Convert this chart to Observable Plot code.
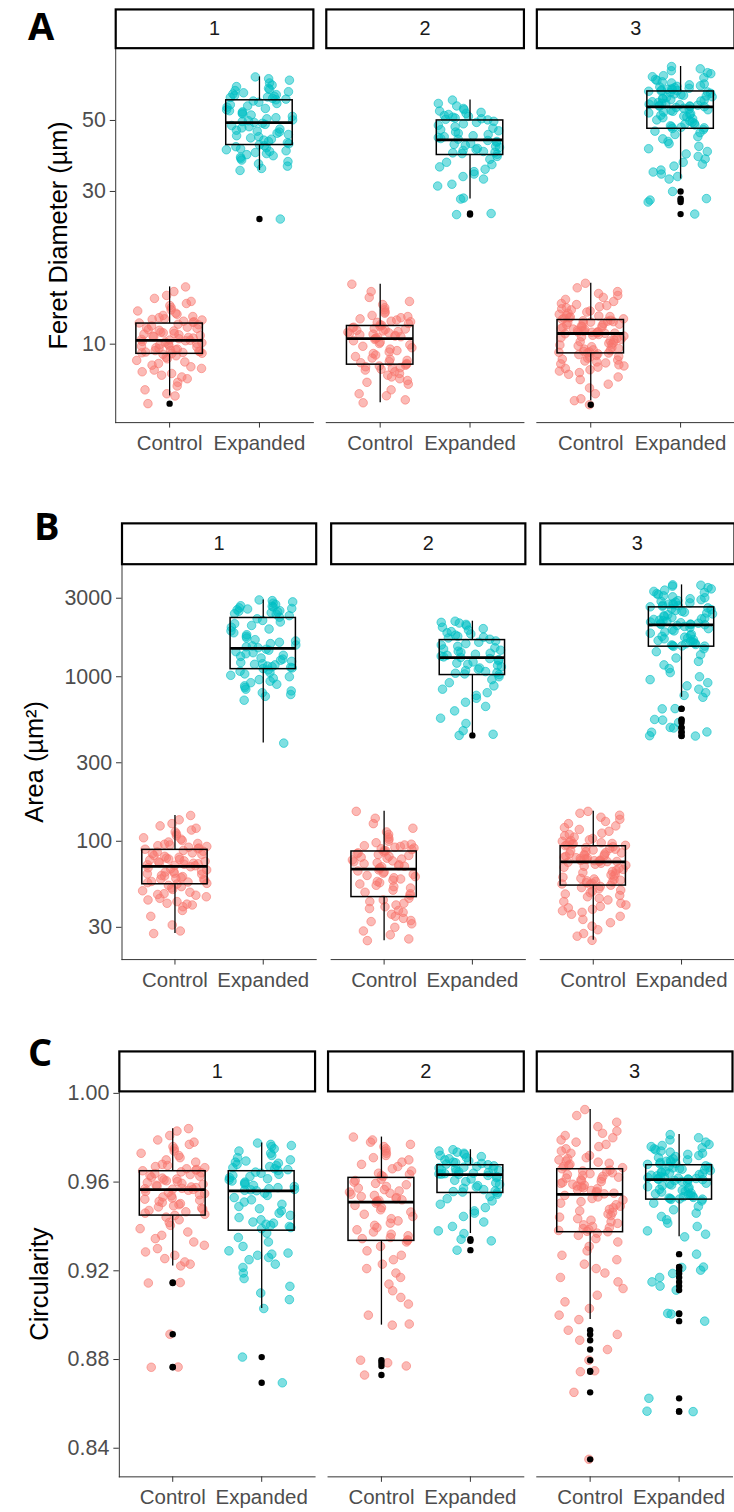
<!DOCTYPE html>
<html>
<head>
<meta charset="utf-8">
<script src="https://cdn.jsdelivr.net/npm/d3@7"></script>
<script src="https://cdn.jsdelivr.net/npm/@observablehq/plot@0.6"></script>
<style>
html, body { margin: 0; padding: 0; background: #fff; width: 734px; height: 1512px; overflow: hidden; }
#wrap { position: relative; width: 734px; height: 1512px; overflow: hidden; }
.panel { position: absolute; left: 0; }
#letters { position: absolute; left: 0; top: 0; pointer-events: none; }
</style>
</head>
<body>
<div id="wrap">
  <div class="panel" id="pA" style="top:0px"></div>
  <div class="panel" id="pB" style="top:490px"></div>
  <div class="panel" id="pC" style="top:1000px"></div>
</div>
<script>
// ---------- categories ----------
const reps = [1, 2, 3];
const groups = ["Control", "Expanded"];
const panelLetters = ["A", "B", "C"];

// ---------- A: Feret diameter (µm) ----------
const feretTicks = [10, 30, 50];
const feretControl1 = [15.1,14.6,14.2,13.9,13.6,13.4,13.2,13.0,12.8,12.7,12.5,12.4,12.3,12.2,12.1,12.0,11.95,11.9,11.8,11.75,11.7,11.65,
  11.55,11.5,11.4,11.3,11.25,11.2,11.1,11.05,11.0,10.9,10.85,10.8,10.75,10.7,10.65,10.6,10.55,10.5,10.45,10.4,10.35,10.3,10.28,
  10.25,10.2,10.15,10.1,10.05,10.0,9.95,9.9,9.85,9.8,9.75,9.7,9.65,9.6,9.58,9.55,9.5,9.48,9.45,9.42,9.4,9.37,9.35,
  9.3,9.2,9.1,9.0,8.9,8.8,8.7,8.6,8.5,8.4,8.3,8.2,8.1,8.0,7.9,7.8,7.6,7.4,7.2,7.0,6.89,6.52];
const feretExpanded1 = [68.4,67.5,66.8,65.5,64.5,63.8,63,62.5,62,61.5,61,60.5,60.2,59.8,59.5,59.2,59,58.6,58.3,58,
  57.5,57,56.5,56,55.5,55,54.5,54,53.6,53.2,52.8,52.4,52,51.5,51,50.6,50.2,49.9,49.6,49.3,
  49,48.6,48.2,47.8,47.4,47,46.6,46.3,46,45.6,45.2,44.8,44.5,44.1,43.7,43.4,43,42.6,42.3,42,
  41.7,41.4,41.1,40.8,40.5,40.2,40,39.7,39.4,39.1,38.8,38.4,38,37.6,37.2,36.6,36,35.4,34.9,24.6];
const feretControl2 = [15.4,14.6,14.0,13.6,13.3,13.0,12.8,12.6,12.5,12.3,12.2,12.1,12.0,11.9,11.8,11.75,11.7,11.6,11.5,11.45,
  11.38,11.3,11.25,11.2,11.15,11.1,11.05,11.0,10.95,10.9,10.85,10.8,10.75,10.7,10.65,10.6,10.55,10.5,10.45,10.42,
  10.35,10.25,10.15,10.05,9.95,9.85,9.75,9.65,9.55,9.45,9.35,9.25,9.15,9.05,8.98,8.9,8.82,8.75,8.7,8.65,
  8.6,8.55,8.5,8.45,8.4,8.35,8.3,8.2,8.1,8.0,7.9,7.8,7.7,7.6,7.5,7.2,7.0,6.9,6.7,6.56];
const feretExpanded2 = [57.9,56.5,55.5,54.5,54,53.5,53,52.6,52.2,51.8,51.5,51.2,50.9,50.6,50.4,50.2,
  49.7,49.3,48.8,48.3,47.8,47.3,46.8,46.4,46,45.6,45.2,44.8,44.5,44.2,43.9,43.7,
  43.3,43,42.7,42.4,42.1,41.8,41.5,41.2,40.9,40.6,40.3,40,39.8,39.6,39.4,39.2,
  38.6,37.8,37,36.4,35.8,35.2,34.6,34,33.4,32.8,31.6,31.2,28.6,28.4,25.6,25.4];
const feretControl3 = [15.5,15.0,14.6,14.4,14.2,14.0,13.8,13.6,13.4,13.3,13.2,13.1,13.0,12.9,12.8,12.7,12.6,12.5,12.4,12.3,12.25,12.2,12.15,12.1,12.05,12.0,11.95,
  11.88,11.84,11.8,11.76,11.72,11.68,11.64,11.6,11.55,11.5,11.45,11.4,11.35,11.3,11.25,11.2,11.15,11.1,11.06,11.02,10.98,10.95,10.92,10.9,10.87,10.85,10.83,10.81,
  10.78,10.72,10.66,10.6,10.54,10.48,10.42,10.36,10.3,10.24,10.18,10.12,10.06,10.0,9.94,9.88,9.82,9.76,9.7,9.65,9.6,9.55,9.5,9.46,9.43,9.4,9.38,
  9.33,9.28,9.22,9.16,9.1,9.04,8.98,8.92,8.86,8.8,8.74,8.68,8.62,8.55,8.48,8.4,8.32,8.24,8.15,8.05,7.9,7.75,7.5,7.3,7.0,6.75,6.66,6.47];
const feretExpanded3 = [73.7,72.5,71.5,70.5,70,69,68.5,68,67.2,66.6,66,65.5,65,64.6,64.2,63.9,63.6,63.3,63,62.8,62.6,62.4,62.2,62,61.8,61.7,
  61.4,61.1,60.8,60.5,60.2,59.9,59.6,59.3,59,58.7,58.4,58.1,57.8,57.5,57.2,56.9,56.6,56.4,56.2,56,55.8,55.6,55.5,55.4,55.3,55.2,
  54.9,54.6,54.3,54,53.7,53.4,53.1,52.8,52.5,52.2,51.9,51.6,51.3,51,50.6,50.2,49.8,49.4,49,48.7,48.4,48.1,47.8,47.6,47.4,47.2,
  46.8,46.3,45.8,45.2,44.5,43.8,43,42.3,41.5,40.8,40,39.3,38.6,37.9,37,36.5,36,35,34.5,34,33.4,32.8,30.0,28.5,28.2,27.8,25.5];
// boxplot summaries: [replicate, group, lower whisker, Q1, median, Q3, upper whisker]
const feretBoxes = [
  [1, "Control", 6.89, 9.33, 10.27, 11.6, 15.1],
  [1, "Expanded", 34.9, 41.9, 49.2, 57.8, 68.4],
  [2, "Control", 6.56, 8.63, 10.4, 11.4, 15.4],
  [2, "Expanded", 28.4, 39.0, 43.5, 50.0, 57.9],
  [3, "Control", 6.66, 9.36, 10.8, 11.9, 15.5],
  [3, "Expanded", 32.8, 47.1, 55.1, 61.6, 73.7]
];

// ---------- B: Area (µm²) ----------
const areaTicks = [30, 100, 300, 1000, 3000];
const areaControl1 = [143.5,135,128,124,120,117,114,111,108,105,103,101,99,97,96,95,94,93,92,91,90,89.5,
  88,87,86,85,84,83,82,81,80,79,78,77.5,77,76,75.5,75,74,73.5,73,72.5,72,71.5,71,
  70,69,68,67,66,65.5,65,64,63.5,63,62,61.5,61,60,59.5,59,58.5,58,57,56.5,56,55.5,55,
  54,53,52,51,50,49,48,47.5,47,46,45,44,43,42,41.5,41,40,38,35,31,28.5,27.5];
const areaExpanded1 = [2930,2900,2850,2800,2750,2700,2680,2650,2620,2600,2580,2550,2520,2500,2480,2450,2420,2400,2350,2300,
  2250,2200,2150,2100,2050,2000,1950,1900,1850,1800,1760,1720,1680,1650,1620,1590,1560,1540,1520,1500,
  1470,1450,1420,1400,1380,1350,1330,1300,1280,1260,1240,1220,1200,1190,1180,1160,1150,1140,1130,1120,
  1100,1080,1060,1040,1020,1000,980,960,940,920,900,880,860,840,820,800,780,760,720,395];
const areaControl2 = [152,138,128,120,114,110,106,103,100,98,96,95,94,93,92,91,90,89,88,87.5,
  86,85,84,83,82,81,80,79,78,77,76,75,74,73,72,71,70.5,70,69,68.5,
  67,66,65,64,63,62,61,60,59,58,57,56,55,54,53,52,50.5,49,48,47,
  45,44,43,42,41,40,39,38,37,36,35,34,33,32.5,31.5,30,28.5,27,25.5,24.9];
const areaExpanded2 = [2175,2140,2120,2080,2040,2000,1960,1920,1880,1850,1820,1790,1760,1740,1720,1690,
  1650,1620,1590,1560,1530,1500,1475,1450,1430,1410,1390,1370,1350,1335,1320,1310,
  1290,1270,1250,1230,1210,1190,1170,1150,1130,1110,1090,1075,1060,1050,1040,1030,
  1000,960,920,880,840,800,770,740,700,660,620,560,520,470,447,440];
const areaControl3 = [152,148,144,140,136,132,128,124,121,118,115,112,110,108,106,104,102,101,100,99,98,97,96.5,96,95,94.5,94,
  92.5,91.5,90.5,89.5,88.5,87.5,86.5,85.5,85,84,83.5,83,82,81.5,81,80,79.5,79,78.5,78,77.5,77,76.5,76.2,76,75.7,75.4,75.2,
  74.5,73.5,72.5,71.5,70.5,69.5,68.5,67.5,66.5,65.5,64.5,63.5,62.5,61.5,60.5,59.5,59,58.5,58,57.5,57,56.5,56,55.5,55,54.5,54.1,
  53.2,52.3,51.4,50.5,49.6,48.7,47.8,46.9,46,45,44,43,42,41,40.2,39.4,38.6,37.8,37,36,35,33.5,32,30.5,29,27.5,26.5,25];
const areaExpanded3 = [3615,3600,3550,3480,3420,3360,3300,3250,3200,3150,3100,3060,3020,2980,2940,2900,2870,2840,2810,2780,2760,2740,2720,2700,2680,2660,
  2620,2590,2560,2530,2500,2470,2440,2410,2380,2350,2320,2290,2270,2250,2230,2210,2190,2170,2150,2130,2115,2100,2090,2080,2075,2070,
  2050,2020,1990,1960,1930,1900,1870,1840,1810,1780,1760,1740,1720,1700,1680,1660,1640,1620,1600,1585,1570,1560,1550,1540,1535,1530,
  1480,1420,1360,1300,1240,1180,1120,1060,1000,960,920,880,840,800,770,750,640,638,550,545,527,492,488,462,460,438,436];
const areaBoxes = [
  [1, "Control", 27.5, 54.8, 70.4, 88.7, 143.5],
  [1, "Expanded", 395, 1112, 1489, 2276, 2930],
  [2, "Control", 24.9, 45.8, 67.8, 86.7, 152],
  [2, "Expanded", 447, 1024, 1307, 1670, 2175],
  [3, "Control", 25, 53.8, 75.0, 93.3, 152],
  [3, "Expanded", 750, 1523, 2066, 2640, 3615]
];

// ---------- C: Circularity ----------
const circTicks = [0.84, 0.88, 0.92, 0.96, 1.00];
const circControl1 = [0.9841,0.983,0.981,0.979,0.978,0.977,0.976,0.975,0.974,0.973,0.972,0.971,0.970,0.969,0.968,0.9675,0.967,0.9665,0.966,0.9657,0.9654,0.9651,
  0.9646,0.9642,0.9638,0.9634,0.963,0.9626,0.9622,0.9618,0.9614,0.961,0.9606,0.9602,0.9598,0.9594,0.959,0.9586,0.9582,0.9578,0.9575,0.9572,0.957,0.9568,0.9567,
  0.9563,0.9558,0.9553,0.9548,0.9543,0.9538,0.9533,0.9528,0.9523,0.9518,0.9513,0.9508,0.9503,0.9498,0.9493,0.9488,0.9483,0.9478,0.9472,0.9466,0.946,0.9455,0.945,
  0.9442,0.943,0.9418,0.9405,0.939,0.9375,0.936,0.9345,0.933,0.9315,0.93,0.9285,0.927,0.9255,0.924,0.923,0.9222,0.9147,0.9145,0.8914,0.8766,0.8765];
const circExpanded1 = [0.9776,0.977,0.9765,0.976,0.975,0.974,0.973,0.972,0.971,0.970,0.9695,0.969,0.9685,0.968,0.9675,0.967,0.9665,0.966,0.9656,0.9652,
  0.9645,0.964,0.9635,0.963,0.9625,0.962,0.9615,0.961,0.9605,0.96,0.9595,0.959,0.9585,0.958,0.9575,0.957,0.9567,0.9565,0.9563,0.9561,
  0.955,0.954,0.953,0.952,0.951,0.95,0.949,0.948,0.947,0.946,0.945,0.944,0.943,0.942,0.9415,0.941,0.9405,0.94,0.9395,0.939,
  0.937,0.935,0.933,0.931,0.929,0.928,0.9275,0.927,0.926,0.925,0.923,0.9215,0.919,0.9165,0.913,0.91,0.907,0.903,0.8811,0.8695];
const circControl2 = [0.9803,0.979,0.978,0.977,0.976,0.975,0.974,0.973,0.972,0.971,0.970,0.969,0.968,0.967,0.966,0.965,0.964,0.9635,0.963,0.9625,
  0.9613,0.9607,0.96,0.9594,0.9588,0.958,0.9573,0.9566,0.956,0.9555,0.955,0.9545,0.954,0.9535,0.953,0.9525,0.952,0.9517,0.9514,0.9512,
  0.9505,0.9495,0.9485,0.9475,0.9465,0.9455,0.9445,0.9435,0.9425,0.9415,0.9405,0.9395,0.9385,0.9375,0.9365,0.9358,0.935,0.9345,0.934,0.9337,
  0.933,0.931,0.929,0.927,0.925,0.923,0.921,0.919,0.917,0.914,0.911,0.908,0.905,0.9,0.896,0.8955,0.8797,0.8785,0.8771,0.873];
const circExpanded2 = [0.9746,0.974,0.9735,0.973,0.9725,0.972,0.9715,0.971,0.9705,0.97,0.9695,0.969,0.9687,0.9684,0.9681,0.9678,
  0.9673,0.967,0.9667,0.9664,0.9661,0.9658,0.9655,0.9652,0.9649,0.9646,0.9643,0.964,0.9638,0.9637,0.9636,0.9635,
  0.963,0.9625,0.962,0.9614,0.9608,0.9602,0.9596,0.959,0.9584,0.9578,0.9572,0.9566,0.956,0.9557,0.9555,0.9553,
  0.9545,0.9535,0.9525,0.9515,0.95,0.9485,0.947,0.946,0.9445,0.942,0.94,0.938,0.9368,0.9342,0.9335,0.9293];
const circControl3 = [0.9927,0.99,0.987,0.985,0.983,0.982,0.981,0.98,0.979,0.978,0.977,0.976,0.975,0.974,0.973,0.972,0.971,0.9705,0.97,0.9695,0.969,0.9685,0.968,0.9675,0.967,0.9665,0.966,
  0.9654,0.965,0.9646,0.9642,0.9638,0.9634,0.963,0.9626,0.9622,0.9618,0.9614,0.961,0.9606,0.9602,0.9598,0.9594,0.959,0.9586,0.9582,0.9578,0.9574,0.957,0.9566,0.9562,0.9558,0.9554,0.955,0.9547,
  0.954,0.9533,0.9526,0.9519,0.9512,0.9505,0.9498,0.9491,0.9484,0.9477,0.947,0.9463,0.9456,0.9449,0.9442,0.9435,0.9428,0.9421,0.9414,0.9407,0.94,0.9395,0.939,0.9386,0.9382,0.9378,0.9376,
  0.937,0.936,0.9345,0.933,0.931,0.929,0.927,0.925,0.923,0.921,0.919,0.917,0.915,0.912,0.909,0.906,0.903,0.9,0.898,0.8932,0.8913,0.8887,0.8845,0.8797,0.8749,0.8745,0.8652,0.835];
const circExpanded3 = [0.9814,0.98,0.979,0.978,0.977,0.9765,0.976,0.9755,0.975,0.9745,0.974,0.9735,0.973,0.9725,0.972,0.9715,0.971,0.9705,0.97,0.9697,0.9694,0.9691,0.9688,0.9685,0.9682,0.968,
  0.9673,0.967,0.9667,0.9664,0.9661,0.9658,0.9655,0.9652,0.9649,0.9646,0.9643,0.964,0.9637,0.9634,0.9631,0.9628,0.9625,0.9622,0.962,0.9618,0.9616,0.9615,0.9614,0.9613,0.9612,0.9611,
  0.9607,0.9603,0.9599,0.9595,0.9591,0.9587,0.9583,0.9579,0.9575,0.9571,0.9567,0.9563,0.9559,0.9555,0.9551,0.9547,0.9543,0.954,0.9537,0.9534,0.9531,0.9528,0.9526,0.9524,0.9523,0.9522,
  0.9515,0.9505,0.949,0.9475,0.946,0.9445,0.943,0.9415,0.94,0.938,0.9365,0.9353,0.9275,0.9217,0.9215,0.9203,0.9188,0.917,0.915,0.9131,0.9113,0.9008,0.9005,0.8973,0.8625,0.8567,0.8565];
const circBoxes = [
  [1, "Control", 0.9222, 0.9449, 0.9566, 0.9649, 0.9841],
  [1, "Expanded", 0.903, 0.9381, 0.956, 0.9649, 0.9776],
  [2, "Control", 0.8955, 0.9335, 0.951, 0.9619, 0.9803],
  [2, "Expanded", 0.9368, 0.9551, 0.9634, 0.9676, 0.9746],
  [3, "Control", 0.898, 0.9374, 0.9545, 0.9658, 0.9927],
  [3, "Expanded", 0.9353, 0.9521, 0.9611, 0.9676, 0.9814]
];

// ---------- helpers ----------
const COLORS = {Control: "#F8766D", Expanded: "#00BFC4"};
// deterministic horizontal jitter (display only)
function jitter(rep, gi, i) {
  const s = Math.sin((i + 1) * 12.9898 + rep * 78.233 + gi * 37.719) * 43758.5453;
  return (s - Math.floor(s) - 0.5) * 0.74;
}
function pointRows(lists) {
  const rows = [];
  for (const [rep, group, values] of lists) {
    const gi = groups.indexOf(group);
    values.forEach((v, i) => rows.push({rep, group, x: gi + 1 + jitter(rep, gi, i), y: v}));
  }
  return rows;
}
function boxRows(boxes) {
  return boxes.map(([rep, group, lo, q1, med, q3, hi]) => ({rep, group, xi: groups.indexOf(group) + 1, lo, q1, med, q3, hi}));
}
function outlierRows(points, boxes) {
  return points.filter(p => {
    const b = boxes.find(b => b.rep === p.rep && b.group === p.group);
    return p.y < b.lo - 1e-9 || p.y > b.hi + 1e-9;
  }).map(p => ({rep: p.rep, xi: groups.indexOf(p.group) + 1, y: p.y}));
}

function drawPanel(cfg) {
  const {el, height, marginTop, marginBottom, marginLeft, facetWidth, gap, stripHeight, y, yLabel, labelDx, points, boxes} = cfg;
  const step = facetWidth + gap;
  const width = marginLeft + 3 * facetWidth + 2 * gap;
  const plotH = height - marginTop - marginBottom;
  const outs = outlierRows(points, boxes);
  const dotStyle = g => ({fx: "rep", x: "x", y: "y", r: 4.3, fill: COLORS[g], fillOpacity: 0.5, stroke: COLORS[g], strokeOpacity: 0.65, strokeWidth: 0.9});
  const chart = Plot.plot({
    width, height, marginTop, marginBottom, marginLeft, marginRight: 0,
    style: {fontFamily: '"Liberation Sans", Arial, sans-serif', fontSize: "20.5px", color: "#333", background: "transparent", overflow: "visible"},
    fx: {domain: reps, paddingInner: gap / step, paddingOuter: 0, axis: null, label: null},
    x: {domain: [0.4, 2.6], ticks: [1, 2], tickFormat: i => groups[i - 1], tickSize: 5.5, tickPadding: 7.5, line: true, label: null},
    y: {...y, tickSize: 5.5, tickPadding: 4.5, line: true, label: null},
    marks: [
      Plot.frame({insetTop: -stripHeight, insetBottom: plotH, stroke: "#000", strokeWidth: 2.2}),
      Plot.text(reps, {fx: d => d, text: d => String(d), frameAnchor: "top", dy: -stripHeight / 2, lineAnchor: "middle", fontSize: 20, fill: "#1a1a1a"}),
      Plot.dot(points.filter(d => d.group === "Control"), dotStyle("Control")),
      Plot.dot(points.filter(d => d.group === "Expanded"), dotStyle("Expanded")),
      Plot.ruleX(boxes, {fx: "rep", x: "xi", y1: "q3", y2: "hi", stroke: "#000", strokeWidth: 1.3}),
      Plot.ruleX(boxes, {fx: "rep", x: "xi", y1: "lo", y2: "q1", stroke: "#000", strokeWidth: 1.3}),
      Plot.rect(boxes, {fx: "rep", x1: d => d.xi - 0.37, x2: d => d.xi + 0.37, y1: "q1", y2: "q3", fill: "none", stroke: "#000", strokeWidth: 1.5}),
      Plot.ruleY(boxes, {fx: "rep", x1: d => d.xi - 0.37, x2: d => d.xi + 0.37, y: "med", stroke: "#000", strokeWidth: 2.8}),
      Plot.dot(outs, {fx: "rep", x: "xi", y: "y", r: 3.2, fill: "#000"}),
      Plot.text([1], {fx: d => d, frameAnchor: "left", textAnchor: "middle", lineAnchor: "middle", text: () => yLabel, rotate: -90, dx: labelDx, fontSize: 25.5, fill: "#000"})
    ]
  });
  const svg = d3.select(chart);
  svg.selectAll('g[aria-label$="tick label"]').attr("fill", "#4d4d4d");
  svg.selectAll('g[aria-label="y-axis tick label"]').attr("font-size", "21.5px");
  document.getElementById(el).appendChild(chart);
}

drawPanel({
  el: "pA", height: 480, marginTop: 48, marginBottom: 55, marginLeft: 116, facetWidth: 199, gap: 13, stripHeight: 39,
  y: {type: "log", domain: [5.688, 84.1], ticks: feretTicks, tickFormat: d => String(d)},
  yLabel: "Feret Diameter (µm)", labelDx: -57,
  points: pointRows([[1, "Control", feretControl1], [1, "Expanded", feretExpanded1], [2, "Control", feretControl2], [2, "Expanded", feretExpanded2], [3, "Control", feretControl3], [3, "Expanded", feretExpanded3]]),
  boxes: boxRows(feretBoxes)
});
drawPanel({
  el: "pB", height: 510, marginTop: 74, marginBottom: 39, marginLeft: 122, facetWidth: 195, gap: 15, stripHeight: 41,
  y: {type: "log", domain: [19.1, 4830], ticks: areaTicks, tickFormat: d => String(d)},
  yLabel: "Area (µm²)", labelDx: -87,
  points: pointRows([[1, "Control", areaControl1], [1, "Expanded", areaExpanded1], [2, "Control", areaControl2], [2, "Expanded", areaExpanded2], [3, "Control", areaControl3], [3, "Expanded", areaExpanded3]]),
  boxes: boxRows(areaBoxes)
});
drawPanel({
  el: "pC", height: 512, marginTop: 91, marginBottom: 35, marginLeft: 118, facetWidth: 197, gap: 13, stripHeight: 40,
  y: {type: "linear", domain: [0.8271, 1.0009], ticks: circTicks, tickFormat: d3.format(".2f")},
  yLabel: "Circularity", labelDx: -80,
  points: pointRows([[1, "Control", circControl1], [1, "Expanded", circExpanded1], [2, "Control", circControl2], [2, "Expanded", circExpanded2], [3, "Control", circControl3], [3, "Expanded", circExpanded3]]),
  boxes: boxRows(circBoxes)
});

// panel letters
const letterPos = [[28, 40], [34, 540], [28, 1066]];
const ov = d3.select("#wrap").append("svg").attr("id", "letters").attr("width", 734).attr("height", 1512);
ov.selectAll("text").data(panelLetters).join("text")
  .attr("x", (d, i) => letterPos[i][0]).attr("y", (d, i) => letterPos[i][1])
  .attr("font-family", '"Open Sans", "Liberation Sans", sans-serif').attr("font-weight", 700).attr("font-size", 38)
  .attr("fill", "#000").text(d => d);
</script>
</body>
</html>
